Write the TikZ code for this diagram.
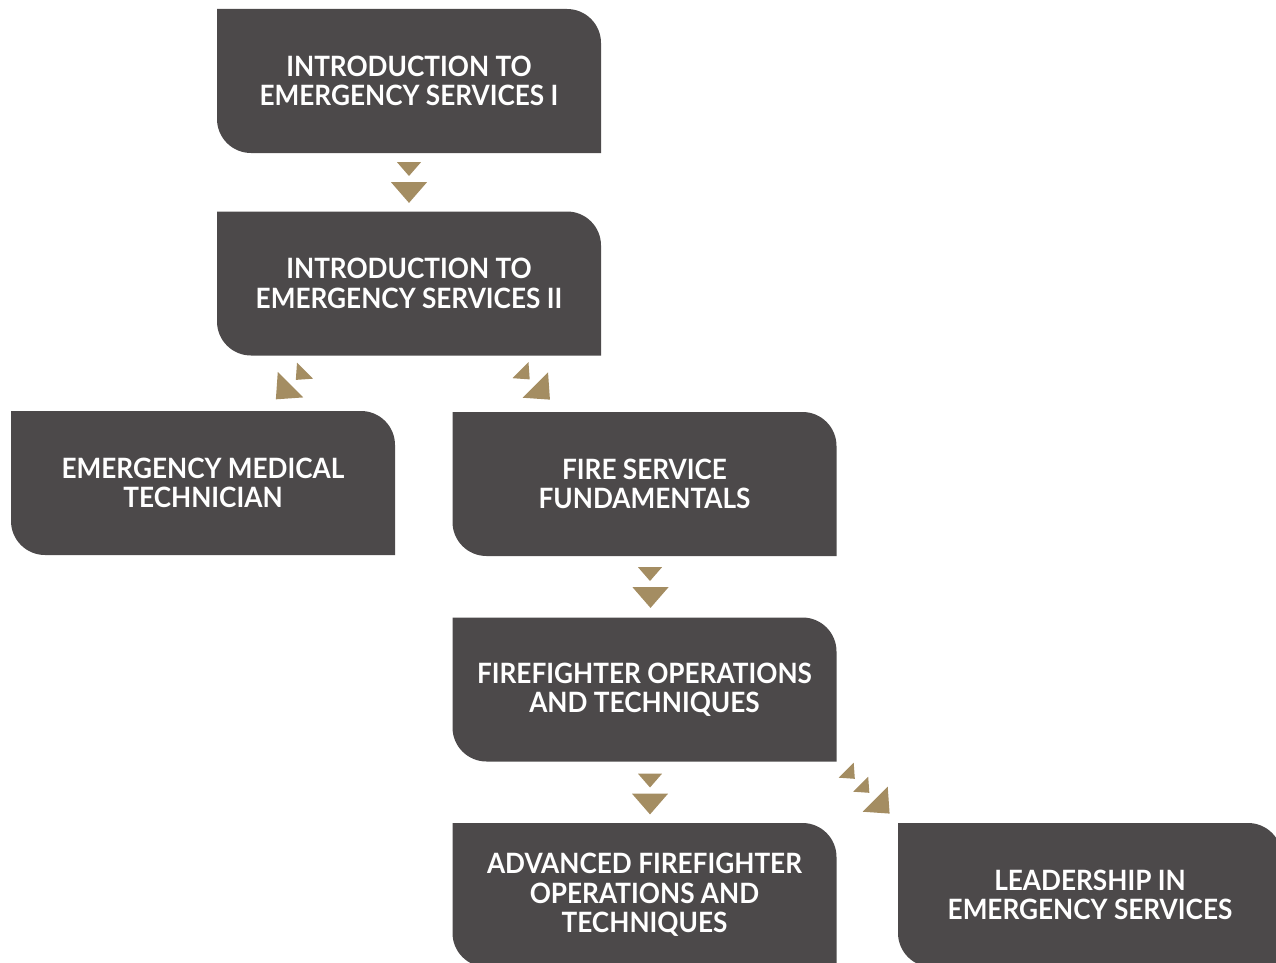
\documentclass[tikz,border=0pt]{standalone}
\usepackage{fontspec}
\setmainfont[FakeStretch=0.935]{Lato}
\usetikzlibrary{calc}
\definecolor{boxgray}{HTML}{4C494A}
\definecolor{arrowgold}{HTML}{A48D62}
\tikzset{
  course/.style={minimum width=384pt, minimum height=144pt, inner sep=0pt,
    text=white, align=center,
    font=\fontsize{28pt}{29.5pt}\selectfont\bfseries,
    path picture={
      \fill[boxgray] (path picture bounding box.north west)
        -- ([xshift=-34pt]path picture bounding box.north east)
        arc[start angle=90, end angle=0, radius=34pt]
        -- (path picture bounding box.south east)
        -- ([xshift=34pt]path picture bounding box.south west)
        arc[start angle=270, end angle=180, radius=34pt]
        -- cycle;
    }},
  pics/arrowtri/.style={code={
    \fill[arrowgold] (0,-#1) -- (1.15*#1,0) -- (0,#1) -- cycle;}}
}
\begin{document}
\begin{tikzpicture}[x=1pt,y=-1pt]
\useasboundingbox (0,0) rectangle (1276,963);
\clip (0,0) rectangle (1276,963);
\node[course] (b1) at (409,81) {INTRODUCTION TO\\EMERGENCY SERVICES I};
\node[course] (b2) at (409,283.5) {INTRODUCTION TO\\EMERGENCY SERVICES II};
\node[course] (b3) at (203,483) {EMERGENCY MEDICAL\\TECHNICIAN};
\node[course] (b4) at (644.5,484) {FIRE SERVICE\\FUNDAMENTALS};
\node[course] (b5) at (644.5,689.5) {FIREFIGHTER OPERATIONS\\AND TECHNIQUES};
\node[course] (b6) at (644.5,895) {ADVANCED FIREFIGHTER\\OPERATIONS AND\\TECHNIQUES};
\node[course] (b7) at (1090,895) {LEADERSHIP IN\\EMERGENCY SERVICES};
% b1 -> b2
\pic[rotate=-90] at ($(b1.south)+(0,9)$) {arrowtri=12};
\pic[rotate=-90] at ($(b1.south)+(0,29)$) {arrowtri=18};
% b2 -> b3
\pic[rotate=-135] at ($(b2.south)+(-104,15)$) {arrowtri=11.3};
\pic[rotate=-135] at ($(b2.south)+(-118.5,29)$) {arrowtri=18};
% b2 -> b4
\pic[rotate=-45] at ($(b2.south)+(111.5,14.5)$) {arrowtri=11.3};
\pic[rotate=-45] at ($(b2.south)+(126.3,29.3)$) {arrowtri=18};
% b4 -> b5
\pic[rotate=-90] at ($(b4.south)+(5.5,11)$) {arrowtri=12};
\pic[rotate=-90] at ($(b4.south)+(6,31)$) {arrowtri=18};
% b5 -> b6
\pic[rotate=-90] at ($(b5.south)+(5.5,12)$) {arrowtri=12};
\pic[rotate=-90] at ($(b5.south)+(5.5,32)$) {arrowtri=18};
% b5 -> b7
\pic[rotate=-45] at ($(b5.south east)+(9.5,8.5)$) {arrowtri=10.6};
\pic[rotate=-45] at ($(b5.south east)+(24,22.5)$) {arrowtri=10.6};
\pic[rotate=-45] at ($(b5.south east)+(38.5,37.5)$) {arrowtri=17.7};
\end{tikzpicture}
\end{document}
